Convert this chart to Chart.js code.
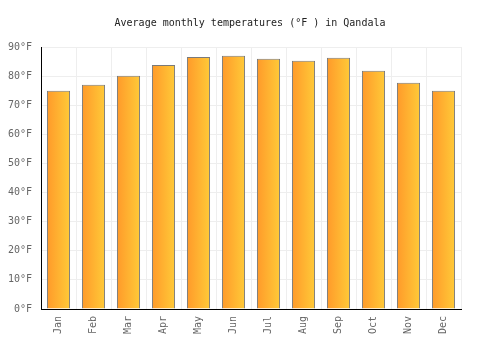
<!DOCTYPE html>
<html>
<head>
<meta charset="utf-8">
<script src="https://cdn.jsdelivr.net/npm/chart.js@4"></script>
<style>
  html, body { margin: 0; padding: 0; background: #fff; }
  #wrap { width: 500px; height: 350px; }
</style>
</head>
<body>
<div id="wrap"><canvas id="myChart" width="500" height="350"></canvas></div>
<script>
const months = ['Jan', 'Feb', 'Mar', 'Apr', 'May', 'Jun', 'Jul', 'Aug', 'Sep', 'Oct', 'Nov', 'Dec'];
const tempsF = [75, 77, 80.1, 83.8, 86.6, 87, 86, 85.3, 86.3, 81.8, 77.7, 75];
const yTicks = [0, 10, 20, 30, 40, 50, 60, 70, 80, 90];

const BAR_PCT = 0.66;

function barGradient(context) {
    const chart = context.chart;
    const xs = chart.scales.x;
    if (!xs || !chart.chartArea) return '#ffb030';
    const cx = xs.getPixelForValue(context.dataIndex);
    const half = (xs.width / months.length) * BAR_PCT / 2;
    const g = chart.ctx.createLinearGradient(cx - half, 0, cx + half, 0);
    g.addColorStop(0, '#ff9a2a');
    g.addColorStop(1, '#ffca38');
    return g;
}

const ctx = document.getElementById('myChart').getContext('2d');
const myChart = new Chart(ctx, {
    type: 'bar',
    data: {
        labels: months,
        datasets: [{
            data: tempsF,
            backgroundColor: barGradient,
            borderColor: '#7a7a7a',
            borderWidth: 1,
            barPercentage: BAR_PCT,
            categoryPercentage: 1
        }]
    },
    options: {
        responsive: false,
        animation: false,
        layout: { padding: 0 },
        plugins: {
            legend: { display: false },
            tooltip: { enabled: false },
            title: {
                display: true,
                text: 'Average monthly temperatures (°F ) in Qandala',
                color: '#222',
                font: { family: 'DejaVu Sans Mono', size: 10, weight: 'normal' },
                padding: { top: 17, bottom: 18 }
            }
        },
        scales: {
            x: {
                grid: { color: '#eeeeee', drawTicks: false },
                border: { color: '#000', width: 1 },
                ticks: {
                    color: '#666',
                    font: { family: 'DejaVu Sans Mono', size: 10 },
                    maxRotation: 90,
                    minRotation: 90,
                    autoSkip: false,
                    padding: 7
                },
                afterFit: function(scale) { scale.height = 41; }
            },
            y: {
                min: 0,
                max: 90,
                afterBuildTicks: function(scale) {
                    scale.ticks = yTicks.map(v => ({ value: v }));
                },
                grid: { color: '#eeeeee', drawTicks: false },
                border: { color: '#000', width: 1 },
                ticks: {
                    color: '#666',
                    font: { family: 'DejaVu Sans Mono', size: 10 },
                    padding: 9,
                    callback: v => v + '°F'
                },
                afterFit: function(scale) { scale.width = 41; }
            },
            // empty right-hand axis: only reserves the right margin
            yRight: {
                position: 'right',
                display: true,
                grid: { display: false },
                border: { display: false },
                ticks: { display: false },
                afterFit: function(scale) { scale.width = 39; }
            }
        }
    }
});
</script>
</body>
</html>
